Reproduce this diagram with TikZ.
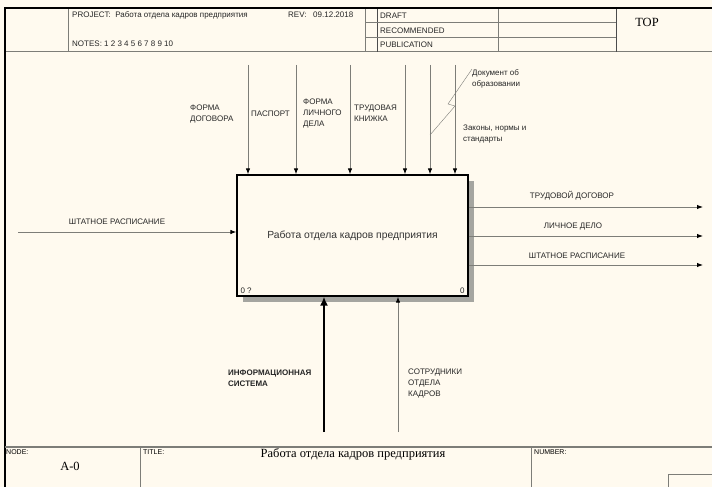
\documentclass[tikz,border=0pt]{standalone}
\usepackage{fontspec}
\setmainfont{Liberation Sans}
\newfontfamily\serifrm{Liberation Serif}
\usetikzlibrary{arrows.meta,positioning}
\definecolor{paper}{RGB}{255,250,239}
\definecolor{linegray}{RGB}{125,125,120}
\definecolor{shadegray}{RGB}{165,165,160}

\begin{document}
\begin{tikzpicture}[x=1pt,y=-1pt,
  lbl/.style={font=\fontsize{8}{11}\selectfont, align=left, inner sep=0pt, text=black!85},
  tiny/.style={font=\fontsize{7}{8}\selectfont, inner sep=0pt, anchor=north west},
  big/.style={font=\serifrm\fontsize{12.5}{14}\selectfont, inner sep=0pt},
  flow/.style={draw=linegray, line width=0.9pt, -{Latex[black,length=6pt,width=4.5pt]}},
  frame/.style={draw=linegray, line width=1pt}]

% Paper and bounding box
\fill[paper] (0,0) rectangle (712,487);
\useasboundingbox (0,0) rectangle (712,487);

% Header
\draw[frame] (68,8) -- (68,52);
\draw[frame] (5,52) -- (712,52);
\draw[frame] (365,8) -- (365,52);
\draw[frame, draw=black!70] (377,8) -- (377,52);
\draw[frame] (498,8) -- (498,52);
\draw[frame, draw=black!70] (616,8) -- (616,52);
\draw[frame] (365,23) -- (616,23);
\draw[frame] (365,38) -- (616,38);
\node[lbl, anchor=west] (project) at (72,15) {PROJECT:\ \ Работа отдела кадров предприятия};
\node[lbl, anchor=west] (rev) at (288,15) {REV:\ \ \ 09.12.2018};
\node[lbl, anchor=west] (notes) at (72,44) {NOTES:\ 1\ 2\ 3\ 4\ 5\ 6\ 7\ 8\ 9\ 10};
\node[lbl, anchor=west] (draft) at (380,15.5) {DRAFT};
\node[lbl, anchor=west] (recom) at (380,30.5) {RECOMMENDED};
\node[lbl, anchor=west] (publ) at (380,45) {PUBLICATION};
\node[big] (top) at (647,22) {TOP};

% Outer frame
\draw[line width=2pt] (5,487) -- (5,8) -- (712,8);

% Activity box with shadow
\fill[shadegray] (243,181) rectangle (474,302);
\node[draw, line width=1.3pt, fill=paper, minimum width=231pt, minimum height=121pt,
  font=\fontsize{10.3}{12}\selectfont, text=black!80] (box) at (352.5,235.5) {Работа отдела кадров предприятия};
\node[lbl, anchor=south west] (cost) at ([xshift=4pt, yshift=3pt]box.south west) {0 ?};
\node[lbl, anchor=south east] (num) at ([xshift=-4pt, yshift=3pt]box.south east) {0};

% Controls
\foreach \i/\x in {1/248,2/296,3/350,4/405,5/430,6/455}
  \coordinate (c\i) at (\x,65);
\foreach \i in {1,...,6}
  \draw[flow] (c\i) -- (c\i |- box.north);
\node[lbl, anchor=west] (lc1) at (190,114) {ФОРМА\\ДОГОВОРА};
\node[lbl, anchor=west] (lc2) at (251,114) {ПАСПОРТ};
\node[lbl, anchor=west] (lc3) at (303,114) {ФОРМА\\ЛИЧНОГО\\ДЕЛА};
\node[lbl, anchor=west] (lc4) at (354,113) {ТРУДОВАЯ\\КНИЖКА};
\node[lbl, anchor=west] (lc5) at (472,78.5) {Документ об\\образовании};
\node[lbl, anchor=west] (lc6) at (463,134.5) {Законы, нормы и\\стандарты};
\draw[linegray, thin] (lc5.north west) -- (448,104) -- (455,106) -- ([yshift=-70pt]c5);

% Input
\coordinate (in1) at (18,232);
\draw[flow] (in1) -- (in1 -| box.west);
\node[lbl] (li1) at (117,222) {ШТАТНОЕ РАСПИСАНИЕ};

% Outputs
\foreach \i/\y in {1/207,2/236,3/265}
  \coordinate (o\i) at (703,\y);
\foreach \i in {1,2,3}
  \draw[flow] (o\i -| box.east) -- (o\i);
\node[lbl] (lo1) at (572,196) {ТРУДОВОЙ ДОГОВОР};
\node[lbl] (lo2) at (573,227) {ЛИЧНОЕ ДЕЛО};
\node[lbl] (lo3) at (577,256) {ШТАТНОЕ РАСПИСАНИЕ};

% Mechanisms
\coordinate (m1) at (324,432);
\coordinate (m2) at (398,432);
\draw[line width=2.4pt, -{Latex[length=9pt,width=8pt]}] (m1) -- (m1 |- box.south);
\draw[flow] (m2) -- (m2 |- box.south);
\node[lbl, anchor=west, font=\bfseries\fontsize{8}{11}\selectfont] (lm1) at (228,378) {ИНФОРМАЦИОННАЯ\\СИСТЕМА};
\node[lbl, anchor=west] (lm2) at (408,383) {СОТРУДНИКИ\\ОТДЕЛА\\КАДРОВ};

% Footer
\draw[frame, line width=1.6pt] (5,447) -- (712,447);
\draw[frame] (140,447) -- (140,487);
\draw[frame] (531,447) -- (531,487);
\draw[frame] (668,487) -- (668,474) -- (712,474);
\node[tiny] (nodelbl) at (6,449) {NODE:};
\node[big] (nodeid) at (70,466) {A-0};
\node[tiny] (titlelbl) at (143,449) {TITLE:};
\node[big] (title) at (353,454) {Работа отдела кадров предприятия};
\node[tiny] (numlbl) at (534,449) {NUMBER:};
\end{tikzpicture}
\end{document}
